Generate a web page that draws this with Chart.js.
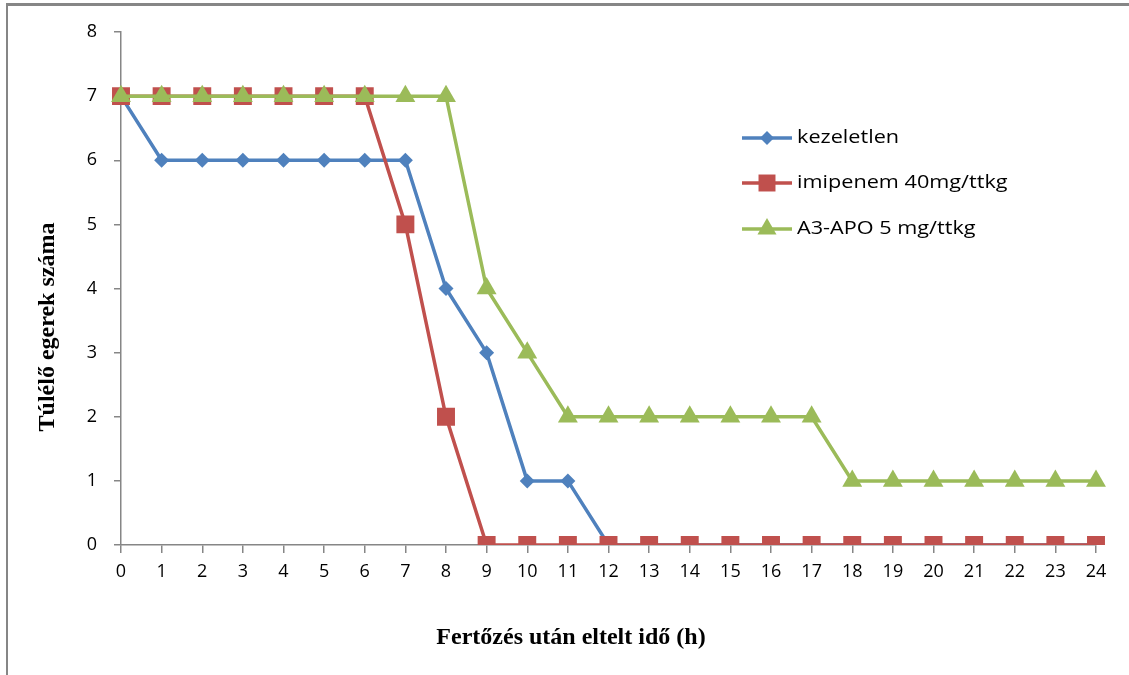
<!DOCTYPE html>
<html>
<head>
<meta charset="utf-8">
<script src="https://cdn.jsdelivr.net/npm/chart.js@4.4.0/dist/chart.umd.min.js"></script>
<style>
  html, body { margin: 0; padding: 0; background: #fff; }
  #wrap { width: 1129px; height: 675px; position: relative; }
</style>
</head>
<body>
<div id="wrap"><canvas id="c" width="1129" height="675"></canvas></div>
<script>
const hours = ['0','1','2','3','4','5','6','7','8','9','10','11','12','13','14','15','16','17','18','19','20','21','22','23','24'];
const kezeletlen = [7,6,6,6,6,6,6,6,4,3,1,1,0,0,0,0,0,0,0,0,0,0,0,0,0];
const imipenem   = [7,7,7,7,7,7,7,5,2,0,0,0,0,0,0,0,0,0,0,0,0,0,0,0,0];
const a3apo      = [7,7,7,7,7,7,7,7,7,4,3,2,2,2,2,2,2,2,1,1,1,1,1,1,1];
const seriesNames = ['kezeletlen', 'imipenem 40mg/ttkg', 'A3-APO 5 mg/ttkg'];
const yTitle = 'Túlélő egerek száma';
const xTitle = 'Fertőzés után eltelt idő (h)';

const BLUE = '#4F81BD', RED = '#C0504D', GREEN = '#9BBB59', AXIS = '#868686';
const LABEL_FONT = '"Open Sans", Lato, sans-serif';
const TITLE_FONT = '"Liberation Serif", "DejaVu Serif", serif';

const decor = {
  id: 'decor',
  beforeDraw(chart) {
    const ctx = chart.ctx;
    ctx.save();
    ctx.fillStyle = '#fff';
    ctx.fillRect(0, 0, chart.width, chart.height);
    ctx.fillStyle = AXIS;
    ctx.fillRect(6, 3, chart.width - 6, 3);
    ctx.fillRect(6, 3, 2, chart.height - 3);
    ctx.restore();
  },
  afterDraw(chart) {
    const ctx = chart.ctx;
    ctx.save();
    // axis titles
    ctx.fillStyle = '#000';
    ctx.font = 'bold 24px ' + TITLE_FONT;
    ctx.textAlign = 'center';
    ctx.textBaseline = 'middle';
    ctx.fillText(xTitle, 571, 638);
    ctx.save();
    ctx.translate(48, 327);
    ctx.rotate(-Math.PI / 2);
    ctx.fillText(yTitle, 0, 0);
    ctx.restore();
    // legend
    const ys = [138, 183, 229];
    chart.data.datasets.forEach((ds, i) => {
      const y = ys[i];
      ctx.strokeStyle = ds.borderColor;
      ctx.lineWidth = 3.5;
      ctx.beginPath();
      ctx.moveTo(742, y);
      ctx.lineTo(792, y);
      ctx.stroke();
      ctx.fillStyle = ds.borderColor;
      Chart.helpers.drawPoint(ctx, {
        pointStyle: ds.pointStyle,
        radius: ds.legendRadius,
        borderWidth: 0
      }, 767, y);
      ctx.fillStyle = '#000';
      ctx.font = '19px ' + LABEL_FONT;
      ctx.textAlign = 'left';
      ctx.textBaseline = 'middle';
      ctx.save();
      ctx.translate(797, y);
      ctx.scale(1.14, 1);
      ctx.fillText(ds.label, 0, 0);
      ctx.restore();
    });
    ctx.restore();
  }
};

Chart.register(decor);

const chart = new Chart(document.getElementById('c'), {
  type: 'line',
  data: {
    labels: hours,
    datasets: [
      {
        label: seriesNames[0], data: kezeletlen,
        borderColor: BLUE, backgroundColor: BLUE,
        pointBackgroundColor: BLUE, pointBorderColor: BLUE, pointBorderWidth: 0,
        pointStyle: 'rectRot', pointRadius: 7.5, legendRadius: 7,
        borderWidth: 3.5, tension: 0, order: 3
      },
      {
        label: seriesNames[1], data: imipenem,
        borderColor: RED, backgroundColor: RED,
        pointBackgroundColor: RED, pointBorderColor: RED, pointBorderWidth: 0,
        pointStyle: 'rect', pointRadius: 12.7, legendRadius: 12,
        borderWidth: 3.5, tension: 0, order: 2
      },
      {
        label: seriesNames[2], data: a3apo,
        borderColor: GREEN, backgroundColor: GREEN,
        pointBackgroundColor: GREEN, pointBorderColor: GREEN, pointBorderWidth: 0,
        pointStyle: 'triangle', pointRadius: 11.5, legendRadius: 11,
        borderWidth: 3.5, tension: 0, order: 1
      }
    ]
  },
  options: {
    responsive: false,
    animation: false,
    devicePixelRatio: 1,
    layout: { padding: { left: 0, right: 33, top: 32, bottom: 0 } },
    plugins: {
      legend: { display: false },
      tooltip: { enabled: false }
    },
    elements: { point: { hoverRadius: 0, borderWidth: 0 } },
    scales: {
      x: {
        type: 'category',
        offset: false,
        grid: { display: true, drawOnChartArea: false, drawTicks: true, tickLength: 8, color: AXIS, lineWidth: 1.5 },
        border: { display: true, color: AXIS, width: 1.5 },
        ticks: { color: '#000', font: { family: LABEL_FONT, size: 18 }, padding: 8, maxRotation: 0, autoSkip: false },
        afterFit(scale) { scale.height = 130; }
      },
      y: {
        min: 0, max: 8,
        grid: { display: true, drawOnChartArea: false, drawTicks: true, tickLength: 7, color: AXIS, lineWidth: 1.5 },
        border: { display: true, color: AXIS, width: 1.5 },
        ticks: { stepSize: 1, color: '#000', font: { family: LABEL_FONT, size: 18 }, padding: 17 },
        afterFit(scale) { scale.width = 121; }
      }
    }
  }
});
</script>
</body>
</html>
